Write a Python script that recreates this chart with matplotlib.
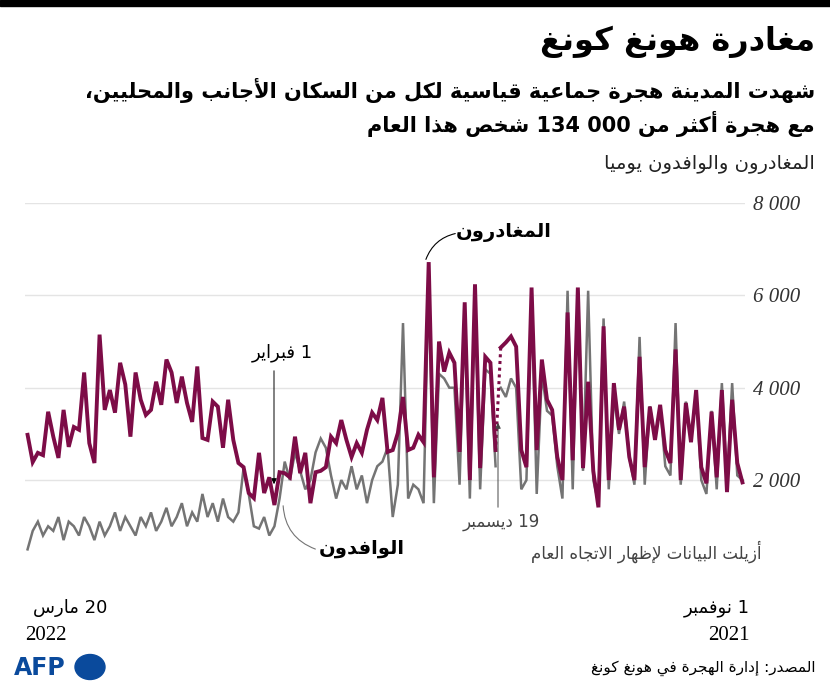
import re
import numpy as np
import matplotlib
matplotlib.use("Agg")
import matplotlib.pyplot as plt

# ---------------- data (chronological: 1 Nov 2021 -> 20 Mar 2022) ----------------
departures = [1950,2370,3740,1740,3950,2060,3480,1930,2280,3950,2820,3670,2000,4830,2370,2650,3630,2870,3590,2280,
              4670,2000,2500,3590,3090,4100,2000,5330,1410,2200,4130,2260,6170,2430,5630,2000,2500,3520,3740,4610,
              2650,6170,2280,2650,4890,5110,4980,4870,
              2650,4540,4670,2260,6240,2000,5850,2610,4540,4760,4350,5000,2060,6720,2820,2980,2700,2650,3800,
              3020,2650,2610,3780,3300,3460,3090,2590,2800,2500,2870,3300,2800,2940,2280,2200,2170,1500,2590,2150,
              2940,2060,2150,2170,1460,2060,1720,2590,1610,1720,2280,2370,2870,3740,2700,3590,3700,2870,2910,4460,
              3260,3670,4240,3670,4330,4610,3630,4130,3520,3410,3740,4330,2940,4070,4540,3460,3950,3520,5150,2370,
              2800,4330,3090,3150,2720,3520,2480,2940,3480,2540,2590,2390,2980]
arrivals = [2000,2100,4100,1900,4100,1800,3500,1700,2000,3900,2900,3700,1900,5400,2100,2300,3600,2900,3600,1900,
            5100,1900,2500,3700,3000,3800,1800,5500,1500,2000,6100,2200,6100,1800,6100,1600,2300,3400,3500,4300,
            1700,6000,2000,1800,4000,4200,3800,4000,
            2300,4300,4400,1800,6100,1600,5600,1900,4000,4000,4200,4300,1500,6400,1500,1800,1900,1600,5400,
            1900,1200,2700,2400,2300,2000,1500,2100,1800,2300,1800,2000,1600,2100,2700,2900,2600,2000,1800,2200,
            2600,2000,2400,1600,1000,800,1200,950,1000,1700,2260,1300,1100,1200,1600,1100,1500,1200,1700,1100,
            1300,1000,1500,1200,1000,1400,1100,900,1300,1000,1200,800,1000,1200,900,1300,1000,800,1100,700,
            1000,1200,800,1000,1100,700,1200,900,1000,800,1100,900,500]
gap_index = 47          # data removed after this day (19 December)
yticks = [2000, 4000, 6000, 8000]
ytick_labels = ["2 000", "4 000", "6 000", "8 000"]

# ---------------- minimal Arabic shaper ----------------
FORMS = {
 'ء':(0xFE80,None,None,None),'آ':(0xFE81,0xFE82,None,None),'أ':(0xFE83,0xFE84,None,None),
 'ؤ':(0xFE85,0xFE86,None,None),'إ':(0xFE87,0xFE88,None,None),'ئ':(0xFE89,0xFE8A,0xFE8B,0xFE8C),
 'ا':(0xFE8D,0xFE8E,None,None),'ب':(0xFE8F,0xFE90,0xFE91,0xFE92),'ة':(0xFE93,0xFE94,None,None),
 'ت':(0xFE95,0xFE96,0xFE97,0xFE98),'ث':(0xFE99,0xFE9A,0xFE9B,0xFE9C),'ج':(0xFE9D,0xFE9E,0xFE9F,0xFEA0),
 'ح':(0xFEA1,0xFEA2,0xFEA3,0xFEA4),'خ':(0xFEA5,0xFEA6,0xFEA7,0xFEA8),'د':(0xFEA9,0xFEAA,None,None),
 'ذ':(0xFEAB,0xFEAC,None,None),'ر':(0xFEAD,0xFEAE,None,None),'ز':(0xFEAF,0xFEB0,None,None),
 'س':(0xFEB1,0xFEB2,0xFEB3,0xFEB4),'ش':(0xFEB5,0xFEB6,0xFEB7,0xFEB8),'ص':(0xFEB9,0xFEBA,0xFEBB,0xFEBC),
 'ض':(0xFEBD,0xFEBE,0xFEBF,0xFEC0),'ط':(0xFEC1,0xFEC2,0xFEC3,0xFEC4),'ظ':(0xFEC5,0xFEC6,0xFEC7,0xFEC8),
 'ع':(0xFEC9,0xFECA,0xFECB,0xFECC),'غ':(0xFECD,0xFECE,0xFECF,0xFED0),'ف':(0xFED1,0xFED2,0xFED3,0xFED4),
 'ق':(0xFED5,0xFED6,0xFED7,0xFED8),'ك':(0xFED9,0xFEDA,0xFEDB,0xFEDC),'ل':(0xFEDD,0xFEDE,0xFEDF,0xFEE0),
 'م':(0xFEE1,0xFEE2,0xFEE3,0xFEE4),'ن':(0xFEE5,0xFEE6,0xFEE7,0xFEE8),'ه':(0xFEE9,0xFEEA,0xFEEB,0xFEEC),
 'و':(0xFEED,0xFEEE,None,None),'ى':(0xFEEF,0xFEF0,None,None),'ي':(0xFEF1,0xFEF2,0xFEF3,0xFEF4),
}
LAMALEF = {'آ':(0xFEF5,0xFEF6),'أ':(0xFEF7,0xFEF8),'إ':(0xFEF9,0xFEFA),'ا':(0xFEFB,0xFEFC)}

def dual(c):
    return c in FORMS and FORMS[c][2] is not None

def shape(s):
    s = s.replace('\u064b', '').replace('\u064f', '')
    chars = list(s)
    out = []
    i = 0
    n = len(chars)
    while i < n:
        c = chars[i]
        if c not in FORMS:
            out.append(c); i += 1; continue
        prev = chars[i-1] if i > 0 else ''
        jp = dual(prev)
        if c == 'ل' and i+1 < n and chars[i+1] in LAMALEF:
            f = LAMALEF[chars[i+1]]
            out.append(chr(f[1] if jp else f[0])); i += 2; continue
        nxt = chars[i+1] if i+1 < n else ''
        jn = dual(c) and nxt in FORMS
        iso, fin, ini, med = FORMS[c]
        if jp and jn: g = med
        elif jp: g = fin
        elif jn: g = ini
        else: g = iso
        out.append(chr(g)); i += 1
    vis = ''.join(out)[::-1]
    vis = re.sub(r'[0-9A-Za-z](?:[0-9A-Za-z ]*[0-9A-Za-z])?', lambda m: m.group(0)[::-1], vis)
    return vis

# ---------------- figure ----------------
W, H = 830, 691
fig = plt.figure(figsize=(W/100, H/100), dpi=100)
def P(x, y):
    return (x / W, 1 - y / H)
AR = "DejaVu Sans"
SERIF = "Liberation Serif"
PURPLE = "#7d0c47"
GREY = "#747474"

fig.patches.append(plt.Rectangle((0, 1 - 6/H), 1, 6/H, transform=fig.transFigure, color="black"))

ax = fig.add_axes([25/W, 1 - 590/H, (745-25)/W, (590-203)/H])
n = len(departures)
idx = np.arange(n)
dep = np.array(departures, float)
arr = np.array(arrivals, float)
for sl in (slice(0, gap_index+1), slice(gap_index+1, n)):
    ax.plot(idx[sl], arr[sl], color=GREY, lw=1.8, solid_joinstyle="miter", zorder=2)
for sl in (slice(0, gap_index+1), slice(gap_index+1, n)):
    ax.plot(idx[sl], dep[sl], color=PURPLE, lw=2.8, solid_joinstyle="miter", zorder=3)
ax.plot(idx[gap_index:gap_index+2], dep[gap_index:gap_index+2], color=PURPLE, lw=2.2, ls=(0, (1, 1.2)), zorder=3)

ax.set_xlim(n - 0.5, -0.5)
ax.set_ylim(-380, 8000)
ax.set_yticks(yticks)
ax.set_yticklabels(ytick_labels, fontfamily=SERIF, fontstyle="italic", fontsize=15, color="#333333")
ax.yaxis.tick_right()
ax.tick_params(axis="y", length=0, pad=6)
ax.set_xticks([])
ax.grid(axis="y", color="#e4e4e4", lw=1)
ax.set_axisbelow(True)
for s in ax.spines.values():
    s.set_visible(False)
ax.patch.set_alpha(0)

fig.text(*P(815, 42), shape("مغادرة هونغ كونغ"), fontfamily=AR, fontweight="bold", fontsize=23, ha="right", va="center")
fig.text(*P(815, 90), shape("شهدت المدينة هجرة جماعية قياسية لكل من السكان الأجانب والمحليين،"),
         fontfamily=AR, fontweight="bold", fontsize=15, ha="right", va="center")
fig.text(*P(815, 124), shape("مع هجرة أكثر من 134 000 شخص هذا العام"),
         fontfamily=AR, fontweight="bold", fontsize=15, ha="right", va="center")
fig.text(*P(815, 165), shape("المغادرون والوافدون يوميا"), fontfamily=AR, fontsize=14, ha="right", va="center", color="#222222")

fig.text(*P(552, 232), shape("المغادرون"), fontfamily=AR, fontweight="bold", fontsize=14, ha="right", va="center")
ax.annotate("", xy=P(425, 262), xycoords="figure fraction", xytext=P(458, 233), textcoords="figure fraction",
            arrowprops=dict(arrowstyle="-", color="black", lw=0.8, connectionstyle="arc3,rad=0.3"))
fig.text(*P(405, 548), shape("الوافدون"), fontfamily=AR, fontweight="bold", fontsize=14, ha="right", va="center")
ax.annotate("", xy=P(283, 503), xycoords="figure fraction", xytext=P(318, 550), textcoords="figure fraction",
            arrowprops=dict(arrowstyle="-", color=GREY, lw=0.8, connectionstyle="arc3,rad=-0.35"))
fig.text(*P(313, 353), shape("1 فبراير"), fontfamily=AR, fontsize=13, ha="right", va="center")
ax.annotate("", xy=P(274, 487), xycoords="figure fraction", xytext=P(274, 368), textcoords="figure fraction",
            arrowprops=dict(arrowstyle="-|>", color="black", lw=0.7, mutation_scale=8))
fig.text(*P(540, 522), shape("19 ديسمبر"), fontfamily=AR, fontsize=12, ha="right", va="center", color="#444444")
fig.text(*P(762, 552), shape("أُزيلت البيانات لإظهار الاتجاه العام"), fontfamily=AR, fontsize=12, ha="right",
         va="center", color="#444444")
ax.annotate("", xy=P(498, 420), xycoords="figure fraction", xytext=P(498, 510), textcoords="figure fraction",
            arrowprops=dict(arrowstyle="-|>", color="#444444", lw=0.7, mutation_scale=8))

fig.text(*P(107, 608), shape("20 مارس"), fontfamily=AR, fontsize=13, ha="right", va="center")
fig.text(*P(25, 636), "2022", fontfamily=SERIF, fontsize=15, ha="left", va="center")
fig.text(*P(750, 608), shape("1 نوفمبر"), fontfamily=AR, fontsize=13, ha="right", va="center")
fig.text(*P(750, 636), "2021", fontfamily=SERIF, fontsize=15, ha="right", va="center")

fig.text(*P(815, 668), shape("المصدر: إدارة الهجرة في هونغ كونغ"), fontfamily=AR, fontsize=11, ha="right", va="center")
fig.text(*P(14, 668), "AFP", fontfamily="DejaVu Sans", fontweight="bold", fontsize=17, ha="left", va="center", color="#0a4a9c")
fig.patches.append(plt.Circle(P(90, 667), 15/W, transform=fig.transFigure, color="#0a4a9c"))

fig.savefig("out.png", dpi=100)
